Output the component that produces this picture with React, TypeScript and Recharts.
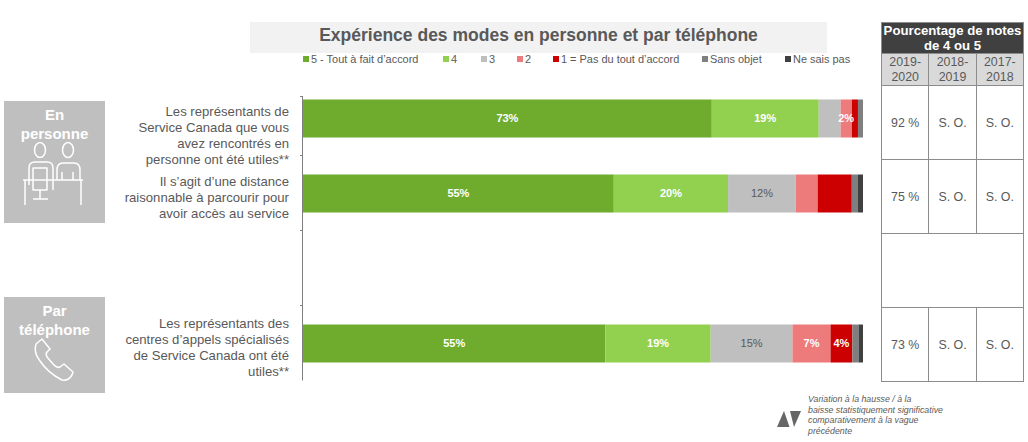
import { Bar, BarChart, LabelList, Legend, XAxis, YAxis } from "recharts";

const FONT = "'Liberation Sans', Arial, sans-serif";
const GREY_TEXT = "#595959";

const categories = ["personne", "distance", "vide", "telephone"];
const categoryLines = [
  ["Les représentants de", "Service Canada que vous", "avez rencontrés en", "personne ont été utiles**"],
  ["Il s’agit d’une distance", "raisonnable à parcourir pour", "avoir accès au service"],
  [],
  ["Les représentants des", "centres d’appels spécialisés", "de Service Canada ont été", "utiles**"],
];

const seriesNames = ["5 - Tout à fait d’accord", "4", "3", "2", "1 = Pas du tout d’accord", "Sans objet", "Ne sais pas"];
const seriesColors = ["#6FAC2E", "#92D050", "#BFBFBF", "#EE7B7B", "#CC0000", "#7F7F7F", "#404040"];
const labelColors = ["#fff", "#fff", GREY_TEXT, "#fff", "#fff", "#fff", "#fff"];

// lengths, printed labels kept apart since they don't always agree
const values5 = [73, 55.5, null, 54];
const values4 = [19.1, 20.4, null, 18.8];
const values3 = [3.9, 12.1, null, 14.6];
const values2 = [2, 3.9, null, 6.8];
const values1 = [1.1, 6.1, null, 3.9];
const valuesSansObjet = [0.9, 1.1, null, 1.1];
const valuesNeSaisPas = [0, 0.9, null, 0.9];

const labels5 = ["73%", "55%", "", "55%"];
const labels4 = ["19%", "20%", "", "19%"];
const labels3 = ["", "12%", "", "15%"];
const labels2 = ["2%", "", "", "7%"];
const labels1 = ["", "", "", "4%"];

const allValues = [values5, values4, values3, values2, values1, valuesSansObjet, valuesNeSaisPas];
const allLabels = [labels5, labels4, labels3, labels2, labels1, [], []];

const data = categories.map((name, i) => {
  const row: Record<string, unknown> = { name };
  allValues.forEach((vals, s) => {
    row[`s${s}`] = vals[i];
    row[`l${s}`] = allLabels[s][i] ?? "";
  });
  return row;
});

const tableTitle = ["Pourcentage de notes", "de 4 ou 5"];
const tableYears = ["2019-2020", "2018-2019", "2017-2018"];
const tableRows = [
  ["92 %", "S. O.", "S. O."],
  ["75 %", "S. O.", "S. O."],
  null,
  ["73 %", "S. O.", "S. O."],
];
const footnote = [
  "Variation à la hausse / à la",
  "baisse statistiquement significative",
  "comparativement à la vague",
  "précédente",
];

const legendX = [303, 443, 481, 517, 553, 702, 785];
const firstLineOffset = [-6, -11, 0, -19];

// axis line starts below the first band in the original, so it's drawn with the ticks
function CategoryTick({ y, index }: any) {
  const lines = categoryLines[index] ?? [];
  return (
    <g>
      {index < 3 && <line x1={300} x2={303} y1={y + 37.5} y2={y + 37.5} stroke="#7F7F7F" />}
      {index === 0 && (
        <>
          <line x1={300} x2={303} y1={96.5} y2={96.5} stroke="#7F7F7F" />
          <line x1={302.5} x2={302.5} y1={96.5} y2={380.5} stroke="#7F7F7F" />
        </>
      )}
      {lines.map((line, i) => (
        <text
          key={i}
          x={289}
          y={y + firstLineOffset[index] + i * 15.9 + 4}
          textAnchor="end"
          fontSize={13.15}
          fontFamily={FONT}
          fill={GREY_TEXT}
        >
          {line}
        </text>
      ))}
    </g>
  );
}

function ChartLegend() {
  return (
    <div style={{ position: "relative", width: 1028, height: 14 }}>
      {seriesNames.map((name, i) => (
        <div
          key={name}
          style={{
            position: "absolute",
            left: legendX[i],
            top: 0,
            display: "flex",
            alignItems: "center",
            fontSize: 10.95,
            lineHeight: "14px",
            color: GREY_TEXT,
            fontFamily: FONT,
            whiteSpace: "nowrap",
          }}
        >
          <span style={{ width: 6, height: 6, background: seriesColors[i], marginRight: 2 }} />
          {name}
        </div>
      ))}
    </div>
  );
}

function SideBox({ top, height, lines }: { top: number; height: number; lines: string[] }) {
  return (
    <div
      style={{
        position: "absolute",
        left: 4,
        top,
        width: 101,
        height,
        background: "#BFBFBF",
        color: "#fff",
        fontFamily: FONT,
        fontWeight: 700,
        fontSize: 15,
        lineHeight: "19px",
        textAlign: "center",
        paddingTop: 4,
        boxSizing: "border-box",
      }}
    >
      {lines.map((l) => (
        <div key={l}>{l}</div>
      ))}
    </div>
  );
}

function NotesTable() {
  const border = "1px solid #8C8C8C";
  const cell = { border, padding: 0, textAlign: "center" as const, color: GREY_TEXT, fontSize: 12.4 };
  return (
    <table
      style={{
        position: "absolute",
        left: 881,
        top: 22,
        width: 143,
        height: 359,
        borderCollapse: "collapse",
        tableLayout: "fixed",
        fontFamily: FONT,
      }}
    >
      <tbody>
        <tr style={{ height: 31 }}>
          <td
            colSpan={3}
            style={{ ...cell, background: "#404040", color: "#fff", fontWeight: 700, fontSize: 13.2, lineHeight: "15px" }}
          >
            {tableTitle.map((l) => (
              <div key={l}>{l}</div>
            ))}
          </td>
        </tr>
        <tr style={{ height: 32 }}>
          {tableYears.map((year) => (
            <td key={year} style={{ ...cell, background: "#D9D9D9", lineHeight: "15px" }}>
              {year}
            </td>
          ))}
        </tr>
        {tableRows.map((row, i) => (
          <tr key={i} style={{ height: 74 }}>
            {row ? row.map((v, j) => <td key={j} style={cell}>{v}</td>) : <td colSpan={3} style={cell} />}
          </tr>
        ))}
      </tbody>
    </table>
  );
}

function Decorations() {
  const icon = { fill: "none", stroke: "#fff", strokeWidth: 1.5, strokeLinejoin: "round" as const };
  return (
    <svg style={{ position: "absolute", left: 0, top: 0, pointerEvents: "none" }} width={1028} height={442}>
      <g {...icon}>
        <ellipse cx={40} cy={150} rx={5.5} ry={7.5} />
        <ellipse cx={68} cy={150} rx={5.5} ry={7.5} />
        <path d="M29 185 V168 Q29 162 35 162 H47 Q53 162 53 168 V190" />
        <path d="M33 168 H47 V190 H33 Z" />
        <path d="M40 190 V199 M33 199 H48" />
        <path d="M23 180 H83 M25 180 V205 M81 180 V205" />
        <path d="M57 180 V170 Q57 163 63 163 H74 Q80 163 80 170 V180" />
        <path d="M62 172 V180 M73 172 V180" />
        <path d="M42 339 L36 344 C34 350 36 356 40 361 C46 370 54 376 62 380 C66 381 69 380 72 375 L73 372 L64 364 L60 367 C58 368 56 367 54 365 L47 357 C46 355 46 353 47 352 L50 349 Z" />
      </g>
      <path d="M777 427 L784 411 L789.5 427 Z M790 411 H801 L794 427 Z" fill="#666" />
      {footnote.map((line, i) => (
        <text key={line} x={808} y={402 + i * 10.6} fontSize={8.8} fontStyle="italic" fontFamily={FONT} fill={GREY_TEXT}>
          {line}
        </text>
      ))}
    </svg>
  );
}

export default function App() {
  return (
    <div style={{ position: "absolute", left: 0, top: 0, width: 1028, height: 442, background: "#fff", overflow: "hidden" }}>
      <div
        style={{
          position: "absolute",
          left: 250,
          top: 22,
          width: 577,
          height: 31,
          background: "#F2F2F2",
          color: GREY_TEXT,
          fontFamily: FONT,
          fontWeight: 700,
          fontSize: 17.5,
          lineHeight: "27px",
          textAlign: "center",
        }}
      >
        Expérience des modes en personne et par téléphone
      </div>
      <SideBox top={101} height={122} lines={["En", "personne"]} />
      <SideBox top={297} height={96} lines={["Par", "téléphone"]} />
      <div style={{ position: "absolute", left: 0, top: 0 }}>
        <BarChart
          width={1028}
          height={442}
          layout="vertical"
          data={data}
          barCategoryGap={0}
          margin={{ top: 80.5, right: 165, bottom: 47.5, left: 0 }}
        >
          <XAxis type="number" domain={[0, 100]} hide allowDataOverflow />
          <YAxis
            type="category"
            dataKey="name"
            width={303}
            axisLine={false}
            tickLine={false}
            tick={<CategoryTick />}
            interval={0}
          />
          <Legend
            content={<ChartLegend />}
            wrapperStyle={{ position: "absolute", left: 0, top: 52, width: 1028, height: 14 }}
          />
          {seriesNames.map((name, s) => (
            <Bar
              key={name}
              name={name}
              dataKey={`s${s}`}
              stackId="a"
              fill={seriesColors[s]}
              barSize={38}
              isAnimationActive={false}
            >
              <LabelList
                dataKey={`l${s}`}
                position="center"
                fill={labelColors[s]}
                fontSize={11}
                fontFamily={FONT}
                fontWeight={s === 2 ? 400 : 700}
              />
            </Bar>
          ))}
        </BarChart>
      </div>
      <NotesTable />
      <Decorations />
    </div>
  );
}
